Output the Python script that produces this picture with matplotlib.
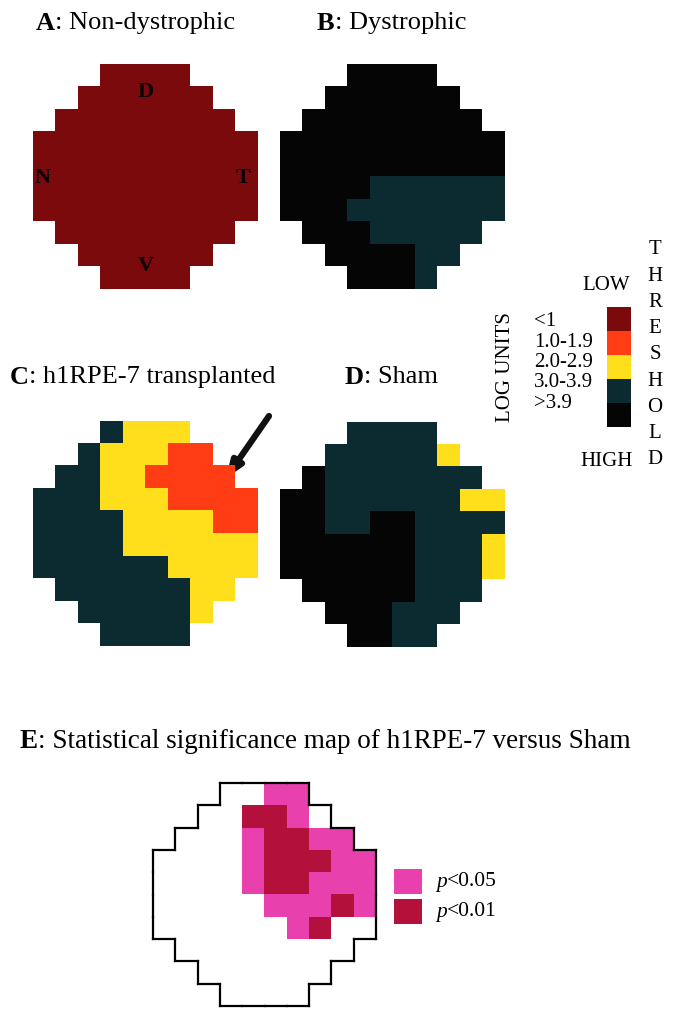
import numpy as np
import matplotlib
matplotlib.use("Agg")
import matplotlib.pyplot as plt
from matplotlib.colors import ListedColormap
from matplotlib.collections import LineCollection

plt.rcParams['font.family'] = ['Liberation Serif', 'DejaVu Serif']

# threshold classes: 0 "<1", 1 "1.0-1.9", 2 "2.0-2.9", 3 "3.0-3.9", 4 ">3.9", "." outside field
class_labels = ["<1", "1.0-1.9", "2.0-2.9", "3.0-3.9", ">3.9"]
class_colors = ["#7a0a0c", "#ff3c14", "#ffdf1c", "#0c2b30", "#050505"]

map_a = [
    "...0000...",
    "..000000..",
    ".00000000.",
    "0000000000",
    "0000000000",
    "0000000000",
    "0000000000",
    ".00000000.",
    "..000000..",
    "...0000...",
]
map_b = [
    "...4444...",
    "..444444..",
    ".44444444.",
    "4444444444",
    "4444444444",
    "4444333333",
    "4443333333",
    ".44433333.",
    "..444433..",
    "...4443...",
]
map_c = [
    "...3222...",
    "..322211..",
    ".33221111.",
    "3332221111",
    "3333222211",
    "3333222222",
    "3333332222",
    ".33333322.",
    "..333332..",
    "...3333...",
]
map_d = [
    "...3333...",
    "..333332..",
    ".43333333.",
    "4433333322",
    "4433443333",
    "4444443332",
    "4444443332",
    ".44444333.",
    "..444333..",
    "...4433...",
]
# significance: 0 not significant, 1 p<0.05, 2 p<0.01
map_e = [
    "...0011...",
    "..002210..",
    ".00012211.",
    "0000122211",
    "0000122111",
    "0000011121",
    "0000001200",
    ".00000000.",
    "..000000..",
    "...0000...",
]
sig_labels = ["<0.05", "<0.01"]
sig_colors = ["#ffffff", "#e841ad", "#b3103c"]

W, H = 677, 1016
fig = plt.figure(figsize=(W / 100, H / 100), dpi=100)
bg = fig.add_axes([0, 0, 1, 1])
bg.set_xlim(0, W)
bg.set_ylim(H, 0)
bg.axis('off')


def to_array(rows):
    arr = np.array([[np.nan if ch == '.' else float(ch) for ch in r] for r in rows])
    return np.ma.masked_invalid(arr)


def px_axes(x0, y0, w, h):
    ax = fig.add_axes([x0 / W, 1 - (y0 + h) / H, w / W, h / H])
    ax.axis('off')
    return ax


def draw_map(rows, x0, y0, size, colors):
    ax = px_axes(x0, y0, size, size)
    ax.imshow(to_array(rows), cmap=ListedColormap(colors), vmin=-0.5,
              vmax=len(colors) - 0.5, interpolation='nearest')
    ax.set_xlim(-0.5, 9.5)
    ax.set_ylim(9.5, -0.5)
    return ax


def field_outline(ax, rows):
    n = len(rows)
    inside = lambda r, c: 0 <= r < n and 0 <= c < len(rows[r]) and rows[r][c] != '.'
    segs = []
    for r in range(n):
        for c in range(len(rows[r])):
            if not inside(r, c):
                continue
            if not inside(r - 1, c):
                segs.append([(c - .5, r - .5), (c + .5, r - .5)])
            if not inside(r + 1, c):
                segs.append([(c - .5, r + .5), (c + .5, r + .5)])
            if not inside(r, c - 1):
                segs.append([(c - .5, r - .5), (c - .5, r + .5)])
            if not inside(r, c + 1):
                segs.append([(c + .5, r - .5), (c + .5, r + .5)])
    lc = LineCollection(segs, colors='black', linewidths=1.6, capstyle='projecting')
    lc.set_clip_on(False)
    ax.add_collection(lc)


def two_part(x, y, first, rest, fs, **first_kw):
    t = bg.text(x, y, first, fontsize=fs, va='center', ha='left', **first_kw)
    fig.canvas.draw()
    bb = t.get_window_extent()
    x2 = bb.x1 * W / fig.bbox.width
    bg.text(x2, y, rest, fontsize=fs, va='center', ha='left')


def title(x, y, letter, text, fs=19):
    two_part(x, y, letter, ": " + text, fs, fontweight='bold')


# panels A-D
ax_a = draw_map(map_a, 33, 64, 225, class_colors)
for lab, c, r in [("D", 4.5, 0.73), ("N", -0.07, 4.57), ("T", 8.83, 4.57), ("V", 4.5, 8.5)]:
    ax_a.text(c, r, lab, fontsize=16, fontweight='bold',
              ha='center', va='center', color='#0a0000')
draw_map(map_b, 280, 64, 225, class_colors)
ax_c = draw_map(map_c, 33, 421, 225, class_colors)
draw_map(map_d, 280, 422, 225, class_colors)

bg.annotate("", xy=(226, 478), xytext=(269, 416),
            arrowprops=dict(arrowstyle='-|>,head_length=0.9,head_width=0.35',
                            lw=4.5, color='#111111', shrinkA=0, shrinkB=0))

title(36, 23, "A", "Non-dystrophic")
title(317, 23, "B", "Dystrophic")
title(10, 377, "C", "h1RPE-7 transplanted")
title(345, 377, "D", "Sham")
title(20, 742, "E", "Statistical significance map of h1RPE-7 versus Sham", fs=19.5)

# threshold legend
leg = px_axes(607, 307, 24, 120)
leg.imshow(np.arange(len(class_colors)).reshape(-1, 1), cmap=ListedColormap(class_colors),
           aspect='auto', interpolation='nearest')
for i, lab in enumerate(class_labels):
    bg.text(534, 322 + i * 20.3, lab, fontsize=15, ha='left', va='center')
bg.text(506, 367, "LOG UNITS", fontsize=15, rotation=90, ha='center', va='center')
bg.text(606, 286, "LOW", fontsize=15, ha='center', va='center')
bg.text(607, 462, "HIGH", fontsize=15, ha='center', va='center')
for i, ch in enumerate("THRESHOLD"):
    bg.text(655, 250 + i * 26.2, ch, fontsize=15, ha='center', va='center')

# panel E
ax_e = draw_map(map_e, 153, 783, 223, sig_colors)
field_outline(ax_e, map_e)
for i, lab in enumerate(sig_labels):
    y = 869 + i * 30
    bg.add_patch(plt.Rectangle((394, y), 28, 25, color=sig_colors[i + 1], lw=0))
    two_part(436, y + 13, "p", lab, 15.5, fontstyle='italic')

fig.savefig("out.png", dpi=100)
